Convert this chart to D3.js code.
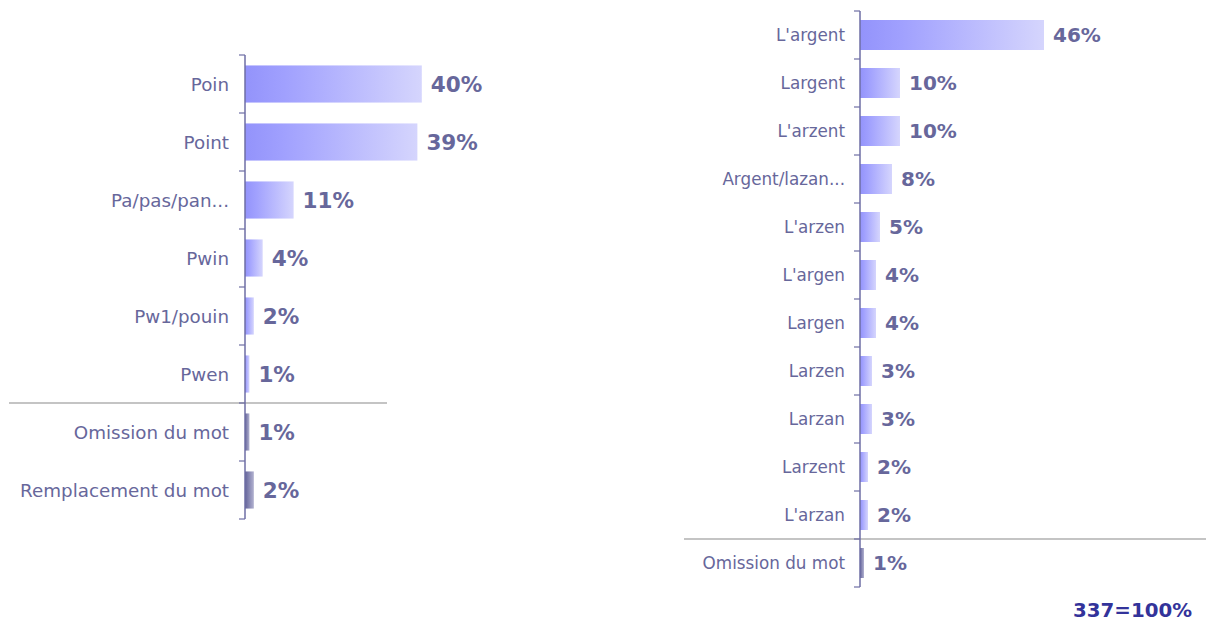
<!DOCTYPE html>
<html>
<head>
<meta charset="utf-8">
<script src="https://cdn.jsdelivr.net/npm/d3@7"></script>
<style>
  body { margin: 0; background: #fff; }
  svg text { font-family: "DejaVu Sans", Verdana, sans-serif; }
</style>
</head>
<body>
<svg id="chart"></svg>
<script>
// left panel : "Pain"
var leftWords = ["Poin", "Point", "Pa/pas/pan...", "Pwin", "Pw1/pouin", "Pwen"];
var leftWordVals = [40, 39, 11, 4, 2, 1];
var leftErrors = ["Omission du mot", "Remplacement du mot"];
var leftErrorVals = [1, 2];

// right panel : "L'argent"
var rightWords = ["L'argent", "Largent", "L'arzent", "Argent/lazan...", "L'arzen", "L'argen", "Largen", "Larzen", "Larzan", "Larzent", "L'arzan"];
var rightWordVals = [46, 10, 10, 8, 5, 4, 4, 3, 3, 2, 2];
var rightErrors = ["Omission du mot"];
var rightErrorVals = [1];

var baseText = "337=100%";

var width = 1214, height = 623;
var textColor = "#67679b";

var svg = d3.select("#chart")
  .attr("width", width)
  .attr("height", height);

var defs = svg.append("defs");
var g1 = defs.append("linearGradient").attr("id", "barGrad");
g1.append("stop").attr("offset", "0%").attr("stop-color", "#9393fb");
g1.append("stop").attr("offset", "22%").attr("stop-color", "#a0a0fe");
g1.append("stop").attr("offset", "100%").attr("stop-color", "#d5d5fd");
var g2 = defs.append("linearGradient").attr("id", "errGrad");
g2.append("stop").attr("offset", "0%").attr("stop-color", "#63639a");
g2.append("stop").attr("offset", "100%").attr("stop-color", "#b2b2d0");

var drawPanel = function(opt)
{
  var cats = opt.words.concat(opt.errors);
  var rows = cats.map(function(c, i) {
    var isErr = i >= opt.words.length;
    return {
      cat: c,
      val: isErr ? opt.errorVals[i - opt.words.length] : opt.wordVals[i],
      err: isErr
    };
  });

  var y = d3.scaleBand()
    .domain(cats)
    .range([opt.top, opt.bottom])
    .padding(0);
  var x = d3.scaleLinear()
    .domain([0, 50])
    .range([opt.axisX, opt.axisX + opt.pxPer50]);

  var g = svg.append("g");
  var barH = y.bandwidth() * opt.barFrac;

  // separator between words and errors
  var sepY = y(opt.errors[0]);
  g.append("line")
    .attr("x1", opt.sepX1).attr("x2", opt.sepX2)
    .attr("y1", sepY).attr("y2", sepY)
    .attr("stroke", "#c4c4c4")
    .attr("stroke-width", 2);

  g.selectAll("rect.bar")
    .data(rows)
    .enter()
    .append("rect")
    .attr("class", "bar")
    .attr("x", x(0))
    .attr("y", function(d) { return y(d.cat) + (y.bandwidth() - barH) / 2; })
    .attr("width", function(d) { return x(d.val) - x(0); })
    .attr("height", barH)
    .attr("fill", function(d) { return d.err ? "url(#errGrad)" : "url(#barGrad)"; });

  // axis line + ticks on the band edges
  var edges = cats.map(function(c) { return y(c); }).concat([opt.bottom]);
  g.append("line")
    .attr("x1", opt.axisX).attr("x2", opt.axisX)
    .attr("y1", opt.top).attr("y2", opt.bottom)
    .attr("stroke", "#6e6ea4")
    .attr("stroke-width", 1.5);
  g.selectAll("line.tick")
    .data(edges)
    .enter()
    .append("line")
    .attr("class", "tick")
    .attr("x1", opt.axisX - 6).attr("x2", opt.axisX)
    .attr("y1", function(d) { return d; })
    .attr("y2", function(d) { return d; })
    .attr("stroke", "#6e6ea4")
    .attr("stroke-width", 1.2);

  g.selectAll("text.cat")
    .data(rows)
    .enter()
    .append("text")
    .attr("class", "cat")
    .text(function(d) { return d.cat; })
    .attr("x", opt.axisX - opt.labelGap)
    .attr("y", function(d) { return y(d.cat) + y.bandwidth() / 2; })
    .attr("dy", "0.36em")
    .attr("text-anchor", "end")
    .attr("font-size", opt.catSize)
    .attr("fill", textColor);

  g.selectAll("text.val")
    .data(rows)
    .enter()
    .append("text")
    .attr("class", "val")
    .text(function(d) { return d.val + "%"; })
    .attr("x", function(d) { return x(d.val) + 9; })
    .attr("y", function(d) { return y(d.cat) + y.bandwidth() / 2; })
    .attr("dy", "0.36em")
    .attr("font-size", opt.valSize)
    .attr("font-weight", "bold")
    .attr("fill", textColor);
}

drawPanel({
  words: leftWords, wordVals: leftWordVals,
  errors: leftErrors, errorVals: leftErrorVals,
  top: 55, bottom: 519, axisX: 245, pxPer50: 221,
  barFrac: 0.64, sepX1: 9, sepX2: 387,
  labelGap: 16, catSize: 18.3, valSize: 21.5
});

drawPanel({
  words: rightWords, wordVals: rightWordVals,
  errors: rightErrors, errorVals: rightErrorVals,
  top: 11, bottom: 587, axisX: 860, pxPer50: 200,
  barFrac: 0.625, sepX1: 684, sepX2: 1206,
  labelGap: 15, catSize: 16.8, valSize: 20
});

svg.append("text")
  .text(baseText)
  .attr("x", 1192)
  .attr("y", 617)
  .attr("text-anchor", "end")
  .attr("font-size", 19.8)
  .attr("font-weight", "bold")
  .attr("fill", "#33339a");
</script>
</body>
</html>
